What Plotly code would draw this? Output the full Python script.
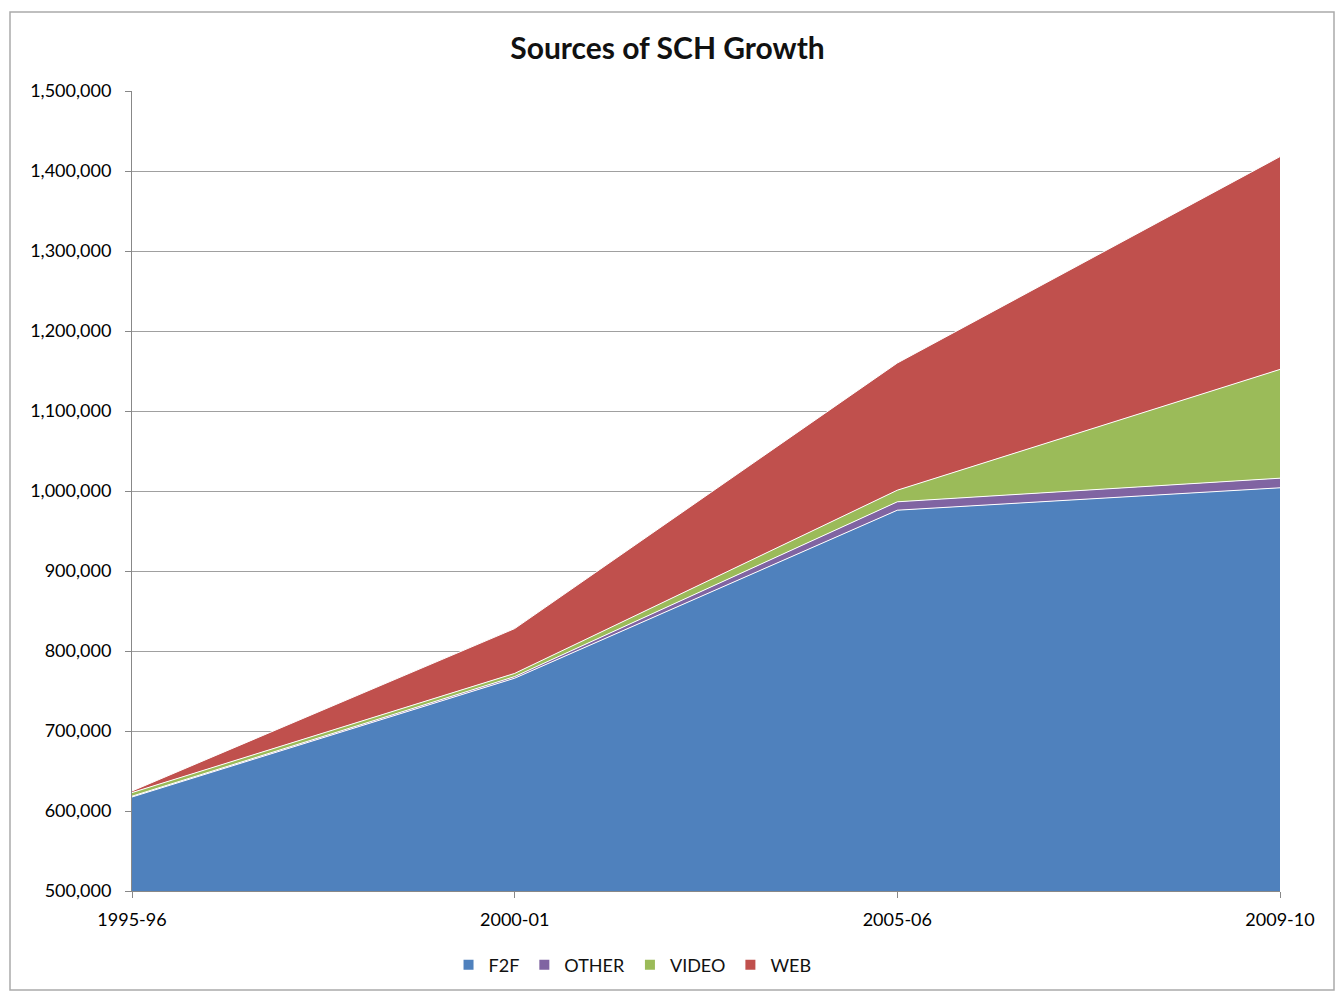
import plotly.graph_objects as go

years = ["1995-96", "2000-01", "2005-06", "2009-10"]
f2f = [617500, 766000, 976000, 1004000]
other = [1000, 2000, 10500, 12000]
video = [4500, 4000, 14500, 136000]
web = [2000, 56000, 159000, 266000]

series = [("F2F", f2f, "#4F81BD"), ("OTHER", other, "#8064A2"),
          ("VIDEO", video, "#9BBB59"), ("WEB", web, "#C0504D")]

FONT = "Lato, 'Open Sans', sans-serif"
fig = go.Figure()
for name, vals, col in series:
    fig.add_trace(go.Scatter(
        x=years, y=vals, name=name, mode="lines", stackgroup="one",
        line=dict(color="white", width=1), fillcolor=col, showlegend=False,
    ))
# legend entries with square keys
for name, vals, col in series:
    fig.add_trace(go.Scatter(
        x=[None], y=[None], name=name, mode="markers",
        marker=dict(symbol="square", size=10, color=col), showlegend=True,
    ))

fig.update_layout(
    width=1335, height=993,
    margin=dict(l=132, r=55, t=91, b=102, autoexpand=False),
    paper_bgcolor="white", plot_bgcolor="white",
    title=dict(text="<b>Sources of SCH Growth</b>", x=0.5, xanchor="center",
               y=1 - 48 / 993, yanchor="middle",
               font=dict(family=FONT, size=30, color="#111")),
    font=dict(family=FONT, size=18, color="#111"),
    showlegend=True,
    legend=dict(orientation="h", x=0.436, xanchor="center",
                yref="container", y=1 - 965 / 993, yanchor="middle",
                font=dict(family=FONT, size=18, color="#111"), itemwidth=30,
                traceorder="normal", tracegroupgap=0),
    xaxis=dict(type="category", range=[0, 3], showgrid=False, showline=True,
               linecolor="#888", linewidth=1, ticks="outside", ticklen=6,
               tickcolor="#888", ticklabelstandoff=6,
               tickfont=dict(family=FONT, size=18, color="#000")),
    yaxis=dict(range=[500000, 1500000], dtick=100000, tickformat=",d",
               showgrid=True, gridcolor="#A0A0A0", gridwidth=1, showline=True,
               linecolor="#888", linewidth=1, ticks="outside", ticklen=6,
               tickcolor="#888", ticklabelstandoff=10,
               tickfont=dict(family=FONT, size=18, color="#000"),
               zeroline=False),
)

fig.add_shape(type="rect", xref="paper", yref="paper",
              x0=(10 - 132) / 1148, x1=(1334 - 132) / 1148,
              y0=(891 - 990) / 800, y1=(891 - 12) / 800,
              line=dict(color="#AAAAAA", width=1.5), layer="below")

fig.write_html("out.html")
